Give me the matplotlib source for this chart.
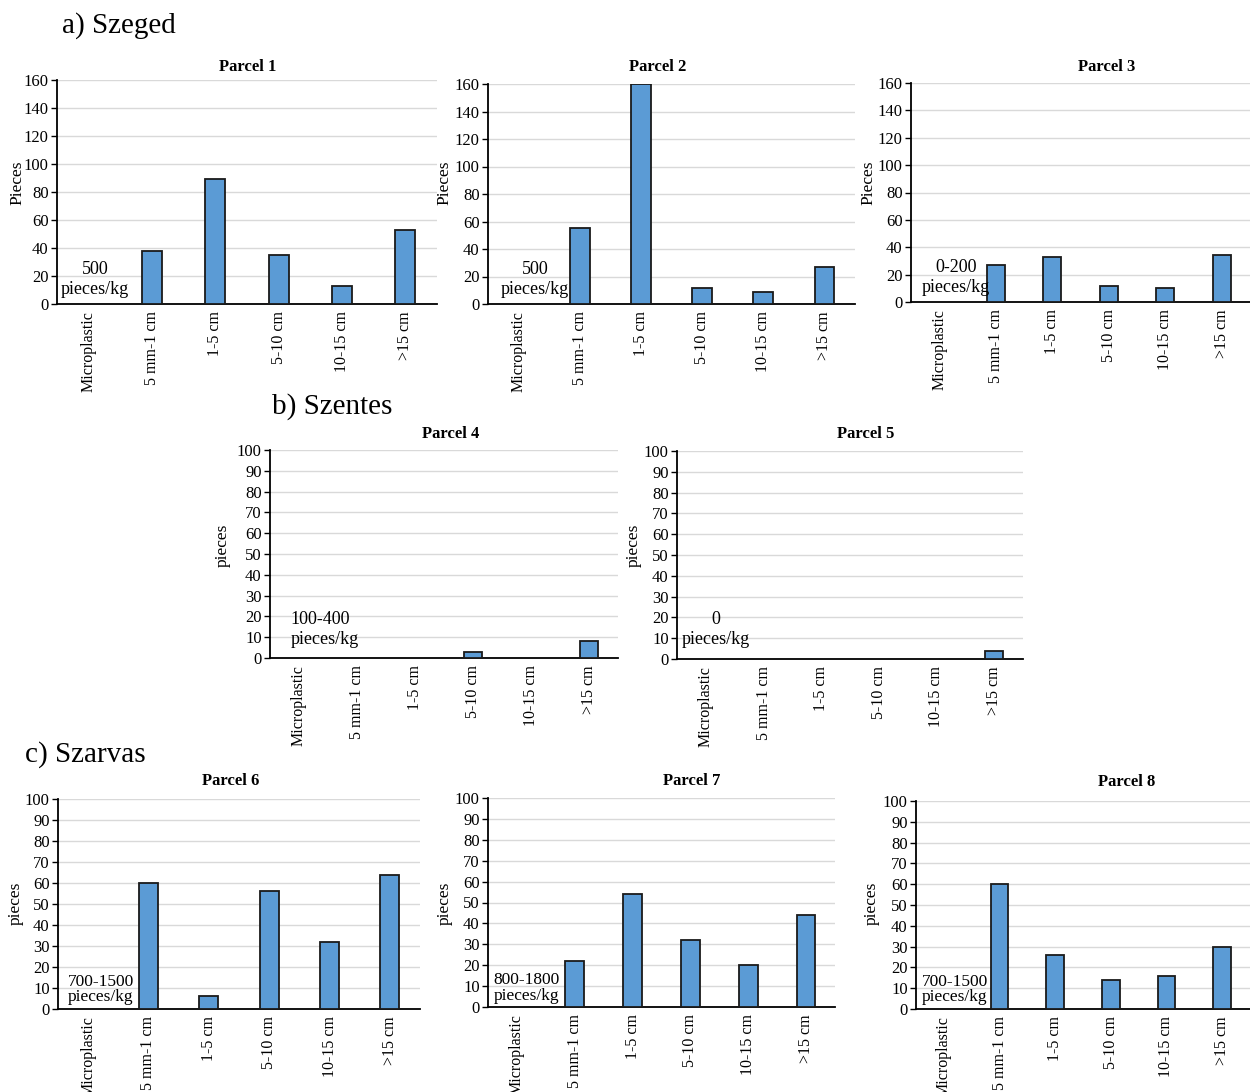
import matplotlib
matplotlib.use("Agg")
import matplotlib.pyplot as plt
import numpy as np

plt.rcParams['font.family'] = ['Liberation Serif', 'DejaVu Serif']

categories = ["Microplastic", "5 mm-1 cm", "1-5 cm", "5-10 cm", "10-15 cm", ">15 cm"]

parcel1 = [0, 38, 89, 35, 13, 53]
parcel2 = [0, 55, 160, 12, 9, 27]
parcel3 = [0, 27, 33, 12, 10, 34]
parcel4 = [0, 0, 0, 3, 0, 8]
parcel5 = [0, 0, 0, 0, 0, 4]
parcel6 = [0, 60, 6, 56, 32, 64]
parcel7 = [0, 22, 54, 32, 20, 44]
parcel8 = [0, 60, 26, 14, 16, 30]

titles = ["Parcel 1", "Parcel 2", "Parcel 3", "Parcel 4", "Parcel 5",
          "Parcel 6", "Parcel 7", "Parcel 8"]
micro_labels = ["500\npieces/kg", "500\npieces/kg", "0-200\npieces/kg",
                "100-400\npieces/kg", "0\npieces/kg",
                "700-1500\npieces/kg", "800-1800\npieces/kg", "700-1500\npieces/kg"]
ylabels = ["Pieces", "Pieces", "Pieces", "pieces", "pieces", "pieces", "pieces", "pieces"]
group_titles = ["a) Szeged", "b) Szentes", "c) Szarvas"]

data = [parcel1, parcel2, parcel3, parcel4, parcel5, parcel6, parcel7, parcel8]

W, H = 1250, 1092
fig = plt.figure(figsize=(W / 100, H / 100), dpi=100)

# pixel boxes: left, right, top, bottom
boxes = [
    (57, 437, 80, 304),
    (488, 855, 84, 304),
    (911, 1250, 83, 302),
    (270, 618, 450, 658),
    (677, 1023, 451, 659),
    (58, 420, 799, 1009),
    (488, 835, 798, 1007),
    (916, 1250, 801, 1009),
]
# title pixel positions (x center, y center)
title_pos = [(248, 67), (658, 67), (1107, 67), (451, 434), (866, 434),
             (231, 781), (692, 781), (1127, 782)]
# ylabel pixel positions (center x, center y)
ylab_pos = [(17, 183), (444, 183), (868, 183), (223, 545), (634, 545),
            (16, 903), (445, 903), (872, 903)]
ymax = [160, 160, 160, 100, 100, 100, 100, 100]
ystep = [20, 20, 20, 10, 10, 10, 10, 10]
# annotation settings: (x in data, y as percent of ymax, ha, fontsize, linespacing)
ann = [
    (0.1, 2.7, 'center', 13, 1.2), (0.27, 2.7, 'center', 13, 1.2), (0.3, 2.7, 'center', 13, 1.2),
    (-0.14, 4.8, 'left', 13, 1.2), (0.18, 5.3, 'center', 13, 1.2),
    (-0.33, 1.8, 'left', 12.5, 0.95), (-0.4, 1.5, 'left', 12.5, 0.95), (-0.39, 1.8, 'left', 12.5, 0.95),
]

bar_color = "#5B9BD5"
x = np.arange(len(categories))

for i, (vals, box) in enumerate(zip(data, boxes)):
    l, r, t, b = box
    ax = fig.add_axes([l / W, 1 - b / H, (r - l) / W, (b - t) / H])
    ax.bar(x, vals, width=0.32, color=bar_color, edgecolor="#1a1a1a", linewidth=1.3, zorder=3)
    ax.set_xlim(-0.5, len(categories) - 0.5)
    ax.set_ylim(0, ymax[i])
    ax.set_yticks(np.arange(0, ymax[i] + 1, ystep[i]))
    ax.yaxis.grid(True, color="#d9d9d9", linewidth=1.0, zorder=0)
    ax.set_axisbelow(True)
    for s in ["top", "right"]:
        ax.spines[s].set_visible(False)
    ax.spines["left"].set_linewidth(1.3)
    ax.spines["bottom"].set_linewidth(1.3)
    ax.set_xticks(x)
    ax.set_xticklabels(categories, rotation=90, fontsize=11.5)
    ax.tick_params(axis='x', length=0, pad=5)
    ax.tick_params(axis='y', labelsize=12, length=4, width=1.0, pad=2)
    ax.set_ylabel(ylabels[i], fontsize=12.5)
    lx, ly = ylab_pos[i]
    ax.yaxis.set_label_coords((lx + 8) / W, 1 - ly / H, transform=fig.transFigure)
    tx, ty = title_pos[i]
    fig.text(tx / W, 1 - ty / H, titles[i], fontsize=12, fontweight='bold',
             ha='center', va='center')
    ax_x, ax_y, ha, fs, ls = ann[i]
    ax.text(ax_x, ax_y * ymax[i] / 100, micro_labels[i], fontsize=fs, ha=ha, va='bottom',
            multialignment=ha, linespacing=ls, zorder=4)

fig.text(62 / W, 1 - 26 / H, group_titles[0], fontsize=21, ha='left', va='center')
fig.text(272 / W, 1 - 407 / H, group_titles[1], fontsize=21, ha='left', va='center')
fig.text(25 / W, 1 - 755 / H, group_titles[2], fontsize=21, ha='left', va='center')

fig.savefig("out.png", dpi=100, facecolor="white")
